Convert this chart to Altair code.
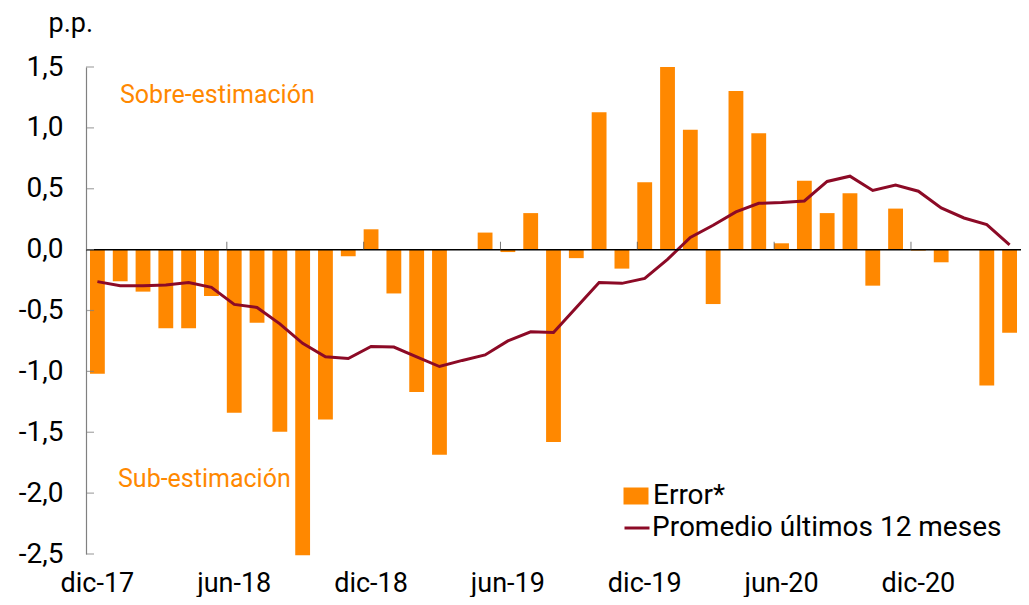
import altair as alt
import pandas as pd

months = ["dic-17", "ene-18", "feb-18", "mar-18", "abr-18", "may-18", "jun-18", "jul-18",
          "ago-18", "sep-18", "oct-18", "nov-18", "dic-18", "ene-19", "feb-19", "mar-19",
          "abr-19", "may-19", "jun-19", "jul-19", "ago-19", "sep-19", "oct-19", "nov-19",
          "dic-19", "ene-20", "feb-20", "mar-20", "abr-20", "may-20", "jun-20", "jul-20",
          "ago-20", "sep-20", "oct-20", "nov-20", "dic-20", "ene-21", "feb-21", "mar-21",
          "abr-21"]

error = [-1.02, -0.26, -0.345, -0.645, -0.645, -0.38, -1.34, -0.60,
         -1.495, -2.51, -1.395, -0.055, 0.167, -0.36, -1.17, -1.685,
         0.0, 0.14, -0.02, 0.30, -1.58, -0.07, 1.128, -0.156,
         0.554, 1.50, 0.985, -0.447, 1.303, 0.955, 0.052, 0.565,
         0.30, 0.463, -0.296, 0.337, -0.008, -0.104, 0.0, -1.117,
         -0.683]

promedio = [-0.263, -0.296, -0.296, -0.29, -0.27, -0.31, -0.45, -0.475,
            -0.61, -0.77, -0.88, -0.895, -0.795, -0.80, -0.88, -0.96,
            -0.91, -0.865, -0.75, -0.675, -0.68, -0.475, -0.27, -0.277,
            -0.236, -0.08, 0.10, 0.20, 0.31, 0.38, 0.387, 0.40,
            0.56, 0.603, 0.486, 0.53, 0.48, 0.343, 0.26, 0.206,
            0.04]

x_labels = ["dic-17", "jun-18", "dic-18", "jun-19", "dic-19", "jun-20", "dic-20"]
x_tick_months = ["jun-18", "dic-18", "jun-19", "dic-19", "jun-20", "dic-20"]
y_ticks = [1.5, 1.0, 0.5, 0.0, -0.5, -1.0, -1.5, -2.0, -2.5]

ORANGE = "#FF8800"
RED = "#8C0A26"
FONT = "Roboto"

df = pd.DataFrame({"mes": months, "error": error, "promedio": promedio,
                   "s1": "Error*", "s2": "Promedio últimos 12 meses"})

xscale = alt.Scale(domain=months, paddingInner=0.35, paddingOuter=0.175)
yscale = alt.Scale(domain=[-2.5, 1.5], nice=False, zero=False)

label_expr = "replace(replace(format(datum.value, '.1f'), '.', ','), '\u2212', '-')"

bars = alt.Chart(df).mark_bar().encode(
    x=alt.X("mes:O", scale=xscale, sort=None,
            axis=alt.Axis(values=x_labels, labelAngle=0, domain=False, ticks=False,
                          labelFont=FONT, labelFontSize=27, labelColor="#000000",
                          labelPadding=37, labelBaseline="alphabetic", title=None)),
    y=alt.Y("error:Q", scale=yscale,
            axis=alt.Axis(values=y_ticks, labelExpr=label_expr, ticks=False, grid=False,
                          domain=True, domainColor="#808080", domainWidth=1.2,
                          labelFont=FONT, labelFontSize=28, labelColor="#000000",
                          labelPadding=23, title="p.p.", titleAngle=0, titleX=-38,
                          titleY=-36, titleAlign="left", titleBaseline="alphabetic",
                          titleFont=FONT, titleFontSize=27, titleFontWeight="normal",
                          titleColor="#000000")),
    fill=alt.Fill("s1:N", scale=alt.Scale(domain=["Error*"], range=[ORANGE]),
                  legend=alt.Legend(title=None, orient="none", legendX=536, legendY=415,
                                    symbolType="M-1.47,-1H1.47V1H-1.47Z", symbolSize=289,
                                    symbolStrokeWidth=0, labelOffset=3, padding=0,
                                    labelLimit=600,
                                    labelFont=FONT, labelFontSize=28, labelColor="#000000")),
)

line = alt.Chart(df).mark_line(strokeWidth=3).encode(
    x=alt.X("mes:O", scale=xscale, sort=None),
    y=alt.Y("promedio:Q", scale=yscale),
    stroke=alt.Stroke("s2:N", scale=alt.Scale(domain=["Promedio últimos 12 meses"], range=[RED]),
                      legend=alt.Legend(title=None, orient="none", legendX=537, legendY=447,
                                        symbolType="stroke", symbolSize=625,
                                        symbolStrokeWidth=3, labelOffset=1, padding=0,
                                        labelLimit=600,
                                        labelFont=FONT, labelFontSize=28, labelColor="#000000")),
)

zero = alt.Chart(pd.DataFrame({"v": [0.0]})).mark_rule(color="#000000", strokeWidth=1.5).encode(
    y=alt.Y("v:Q", scale=yscale)
)

xticks = alt.Chart(pd.DataFrame({"mes": x_tick_months, "v": 0.0})).mark_tick(
    orient="vertical", size=8, thickness=1, color="#404040", yOffset=-4
).encode(
    x=alt.X("mes:O", scale=xscale, sort=None, bandPosition=0),
    y=alt.Y("v:Q", scale=yscale),
)

yticks = alt.Chart(pd.DataFrame({"v": y_ticks})).mark_tick(
    orient="horizontal", size=8, thickness=1.2, color="#808080", xOffset=4
).encode(
    x=alt.value(0),
    y=alt.Y("v:Q", scale=yscale),
)

sobre = alt.Chart(pd.DataFrame({"t": ["Sobre-estimación"]})).mark_text(
    align="left", baseline="middle", font=FONT, fontSize=25, color=ORANGE
).encode(text="t:N", x=alt.value(34), y=alt.value(28))

sub = alt.Chart(pd.DataFrame({"t": ["Sub-estimación"]})).mark_text(
    align="left", baseline="middle", font=FONT, fontSize=25, color=ORANGE
).encode(text="t:N", x=alt.value(32), y=alt.value(412))

chart = alt.layer(bars, line, zero, xticks, yticks, sobre, sub).properties(
    width=935, height=487,
    padding={"left": 78, "top": 59, "right": 0, "bottom": 43},
    autosize=alt.AutoSizeParams(type="none"),
).configure_view(stroke=None).configure_legend(
    orient="none"
)

chart.save("out.html", embed_options={"renderer": "svg", "actions": False})
